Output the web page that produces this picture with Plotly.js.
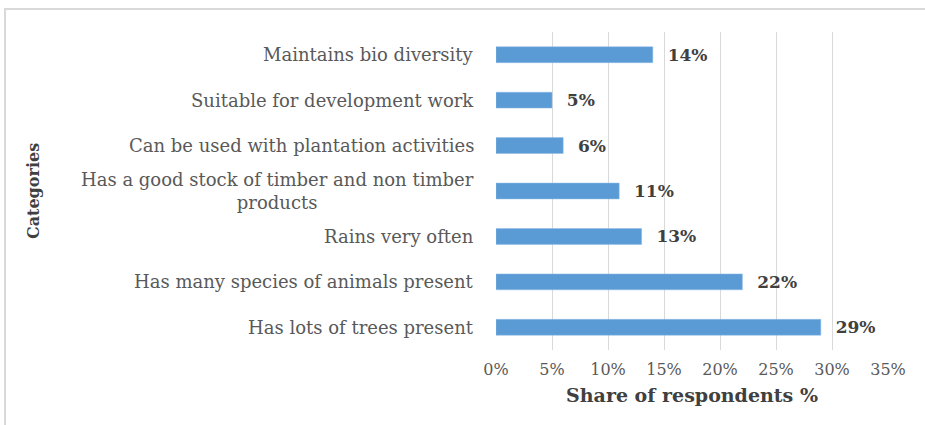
<!DOCTYPE html>
<html>
<head>
<meta charset="utf-8">
<script src="https://cdn.plot.ly/plotly-3.0.1.min.js"></script>
<style>
  html, body { margin: 0; padding: 0; background: #ffffff; overflow: hidden; }
  #frame { position: absolute; left: 4px; top: 8px; width: 1000px; height: 1000px; border: 2px solid #d9d9d9; z-index: 0; }
  #chart { position: absolute; left: 0; top: 0; width: 925px; height: 425px; z-index: 1; }
</style>
</head>
<body>
<div id="frame"></div>
<div id="chart"></div>
<script>
// Data (top to bottom as shown)
const categories = [
  "Maintains bio diversity",
  "Suitable for development work",
  "Can be used with plantation activities",
  "Has a good stock of timber and non timber<br>products",
  "Rains very often",
  "Has many species of animals present",
  "Has lots of trees present"
];
const shares = [0.14, 0.05, 0.06, 0.11, 0.13, 0.22, 0.29];
const tickValues = [0, 0.05, 0.10, 0.15, 0.20, 0.25, 0.30, 0.35];
const xTitle = "Share of respondents %";
const yTitle = "Categories";

const serif = "DejaVu Serif, Liberation Serif, serif";

const trace = {
  type: "bar",
  orientation: "h",
  y: categories,
  x: shares,
  marker: { color: "#5b9bd5", line: { color: "#8fbbe6", width: 0.5 } },
  texttemplate: "\u00a0\u00a0%{x:.0%}",
  textposition: "outside",
  constraintext: "none",
  cliponaxis: false,
  textfont: { family: serif, size: 17, color: "#404040", weight: "bold" },
  hoverinfo: "skip"
};

const annotations = categories.map(c => ({
  xref: "paper", yref: "y", x: 0, y: c,
  xanchor: "right", yanchor: "middle", xshift: -20,
  text: c, align: "center", showarrow: false,
  font: { family: serif, size: 18, color: "#595959" }
}));
annotations.push({
  xref: "paper", yref: "paper", x: -1.181, y: 0.5,
  xanchor: "center", yanchor: "middle",
  text: "<b>" + yTitle + "</b>", textangle: -90, showarrow: false,
  font: { family: serif, size: 16, color: "#404040" }
});

const layout = {
  width: 925, height: 425,
  margin: { l: 496, r: 37, t: 32, b: 75 },
  paper_bgcolor: "rgba(0,0,0,0)",
  plot_bgcolor: "rgba(0,0,0,0)",
  bargap: 0.65,
  showlegend: false,
  xaxis: {
    range: [0, 0.35],
    tickvals: tickValues,
    tickformat: ".0%",
    showgrid: true, gridcolor: "#d9d9d9", gridwidth: 1,
    zeroline: false, showline: false, ticks: "",
    ticklabelstandoff: 8,
    tickfont: { family: serif, size: 16, color: "#595959" },
    title: { text: "<b>" + xTitle + "</b>", standoff: 10, font: { family: serif, size: 19, color: "#404040" } },
    fixedrange: true
  },
  yaxis: {
    type: "category",
    autorange: "reversed",
    showticklabels: false,
    showgrid: false, zeroline: false, showline: false, ticks: "",
    fixedrange: true
  },
  annotations: annotations
};

Plotly.newPlot("chart", [trace], layout, { staticPlot: true, displayModeBar: false });
</script>
</body>
</html>
